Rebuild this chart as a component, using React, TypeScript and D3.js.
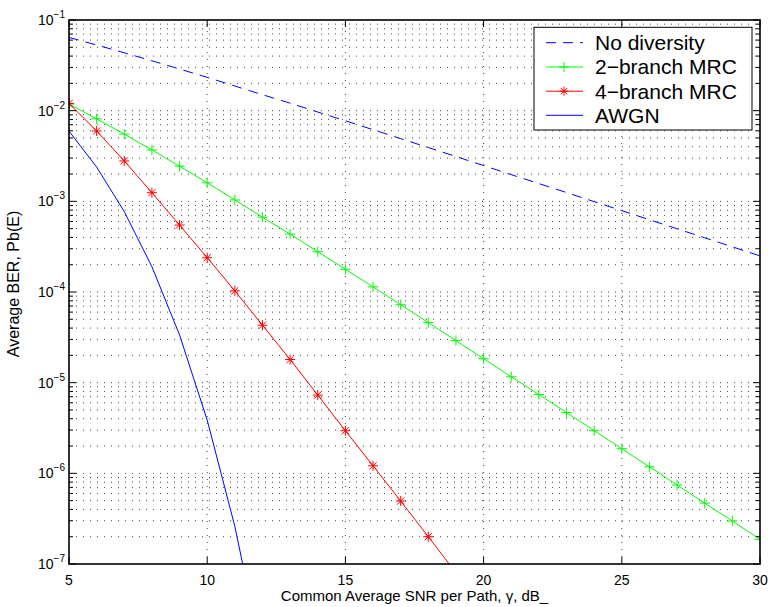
import React from "react";
import * as d3 from "d3";

const snrDb = [5, 6, 7, 8, 9, 10, 11, 12, 13, 14, 15, 16, 17, 18, 19, 20, 21, 22, 23, 24, 25, 26, 27, 28, 29, 30];
const noDiversity = [0.0642, 0.053, 0.0435, 0.0355, 0.0288, 0.0233, 0.0187, 0.015, 0.0121, 0.00966, 0.00773, 0.00617, 0.00492, 0.00392, 0.00312, 0.00248, 0.00197, 0.00157, 0.00125, 0.000993, 0.000789, 0.000627, 0.000498, 0.000396, 0.000315, 0.00025];
const mrc2 = [0.0118, 0.00813, 0.00551, 0.00369, 0.00244, 0.0016, 0.001036, 0.000668, 0.000436, 0.000278, 0.000178, 0.000114, 7.24e-5, 4.6e-5, 2.91e-5, 1.84e-5, 1.16e-5, 7.39e-6, 4.68e-6, 2.96e-6, 1.87e-6, 1.18e-6, 7.44e-7, 4.7e-7, 2.98e-7, 1.87e-7];
const snrDb4 = [5, 6, 7, 8, 9, 10, 11, 12, 13, 14, 15, 16, 17, 18, 19];
const mrc4 = [0.012, 5.97e-3, 2.79e-3, 1.245e-3, 5.48e-4, 2.39e-4, 1.03e-4, 4.3e-5, 1.8e-5, 7.3e-6, 2.95e-6, 1.21e-6, 4.95e-7, 2.0e-7, 8.0e-8];
const snrDbAwgn = [5, 6, 7, 8, 9, 10, 11, 12];
const awgn = [5.95e-3, 2.39e-3, 7.7e-4, 1.9e-4, 3.36e-5, 3.87e-6, 2.6e-7, 9e-9];

const xTicks = [5, 10, 15, 20, 25, 30];
const yDecades = [-7, -6, -5, -4, -3, -2, -1];
const legendLabels = ["No diversity", "2\u2212branch MRC", "4\u2212branch MRC", "AWGN"];
const xLabel = "Common Average SNR per Path, \u03b3, dB_";
const yLabel = "Average BER, Pb(E)";

const W = 768, H = 607;
const L = 69, R = 760, T = 20, B = 564;
const FONT = "'Liberation Sans', Arial, Helvetica, sans-serif";

function PlusMarker({ x, y, s, c }: { x: number; y: number; s: number; c: string }) {
  return (
    <g stroke={c} strokeWidth={1}>
      <line x1={x - s} y1={y} x2={x + s} y2={y} />
      <line x1={x} y1={y - s} x2={x} y2={y + s} />
    </g>
  );
}
function StarMarker({ x, y, s, c }: { x: number; y: number; s: number; c: string }) {
  const d = s * 0.72;
  return (
    <g stroke={c} strokeWidth={1}>
      <line x1={x - s} y1={y} x2={x + s} y2={y} />
      <line x1={x} y1={y - s} x2={x} y2={y + s} />
      <line x1={x - d} y1={y - d} x2={x + d} y2={y + d} />
      <line x1={x - d} y1={y + d} x2={x + d} y2={y - d} />
    </g>
  );
}

export default function App() {
  const x = d3.scaleLinear().domain([5, 30]).range([L, R]);
  const y = d3.scaleLog().domain([1e-7, 1e-1]).range([B, T]);
  const line = d3
    .line<[number, number]>()
    .x((d) => x(d[0]))
    .y((d) => y(d[1]));
  const zip = (a: number[], b: number[]) => a.map((v, i) => [v, b[i]] as [number, number]);

  const minorVals: number[] = [];
  yDecades.forEach((e) => {
    if (e === -1) return;
    for (let k = 2; k <= 9; k++) minorVals.push(k * Math.pow(10, e));
  });
  const majorVals = yDecades.map((e) => Math.pow(10, e));

  const gridDash = "1,6";
  const legendY = [42.7, 67, 91.2, 115.3];
  const legendColors = ["#0000ff", "#00ff00", "#ff0000", "#0000ff"];

  return (
    <svg width={W} height={H} style={{ position: "absolute", left: 0, top: 0, background: "#fff" }} fontFamily={FONT}>
      <defs>
        <clipPath id="plotClip">
          <rect x={L} y={T} width={R - L} height={B - T} />
        </clipPath>
      </defs>
      <rect x={0} y={0} width={W} height={H} fill="#fff" />
      {/* grid */}
      <g stroke="#000" strokeWidth={0.9} strokeDasharray={gridDash} opacity={0.8}>
        {[...minorVals, ...majorVals.slice(1, -1)].map((v, i) => (
          <line key={"h" + i} x1={L} x2={R} y1={y(v)} y2={y(v)} />
        ))}
        {xTicks.slice(1, -1).map((v, i) => (
          <line key={"v" + i} x1={x(v)} x2={x(v)} y1={B} y2={T} />
        ))}
      </g>
      {/* series */}
      <g clipPath="url(#plotClip)" fill="none" strokeWidth={1}>
        <path d={line(zip(snrDb, noDiversity)) || ""} stroke="#0000ff" strokeDasharray="10,7" />
        <path d={line(zip(snrDb, mrc2)) || ""} stroke="#00ff00" />
        <path d={line(zip(snrDb4, mrc4)) || ""} stroke="#ff0000" />
        <path d={line(zip(snrDbAwgn, awgn)) || ""} stroke="#0000ff" />
        {snrDb.map((v, i) => (
          <PlusMarker key={"p" + i} x={x(v)} y={y(mrc2[i])} s={5.2} c="#00ff00" />
        ))}
        {snrDb4.map((v, i) => (
          <StarMarker key={"s" + i} x={x(v)} y={y(mrc4[i])} s={5} c="#ff0000" />
        ))}
      </g>
      {/* ticks */}
      <g stroke="#000" strokeWidth={1}>
        {majorVals.map((v, i) => (
          <g key={"ym" + i}>
            <line x1={L} x2={L + 7} y1={y(v)} y2={y(v)} />
            <line x1={R} x2={R - 7} y1={y(v)} y2={y(v)} />
          </g>
        ))}
        {minorVals.map((v, i) => (
          <g key={"yn" + i}>
            <line x1={L} x2={L + 4} y1={y(v)} y2={y(v)} />
            <line x1={R} x2={R - 4} y1={y(v)} y2={y(v)} />
          </g>
        ))}
        {xTicks.map((v, i) => (
          <g key={"xt" + i}>
            <line x1={x(v)} x2={x(v)} y1={B} y2={B - 7} />
            <line x1={x(v)} x2={x(v)} y1={T} y2={T + 7} />
          </g>
        ))}
      </g>
      {/* axes box */}
      <rect x={L} y={T} width={R - L} height={B - T} fill="none" stroke="#000" strokeWidth={1.6} />
      {/* tick labels */}
      <g fontSize={14} fill="#000">
        {xTicks.map((v, i) => (
          <text key={"xl" + i} x={x(v)} y={B + 20.5} textAnchor="middle">
            {v}
          </text>
        ))}
        {yDecades.map((e, i) => (
          <text key={"yl" + i} x={L - 4} y={y(Math.pow(10, e)) + 5} textAnchor="end">
            10
            <tspan dy={-7} fontSize={10}>
              {"\u2212" + Math.abs(e)}
            </tspan>
          </text>
        ))}
      </g>
      {/* axis labels */}
      <text x={(L + R) / 2} y={601} textAnchor="middle" fontSize={15}>
        {xLabel}
      </text>
      <text transform={`translate(19,284) rotate(-90)`} textAnchor="middle" fontSize={16}>
        {yLabel}
      </text>
      {/* legend */}
      <g>
        <rect x={534} y={27.3} width={218} height={102.7} fill="#fff" stroke="#000" strokeWidth={1} />
        {legendLabels.map((lab, i) => (
          <g key={"lg" + i}>
            <line
              x1={546}
              x2={583}
              y1={legendY[i]}
              y2={legendY[i]}
              stroke={legendColors[i]}
              strokeWidth={1}
              strokeDasharray={i === 0 ? "10,7" : undefined}
            />
            {i === 1 && <PlusMarker x={564} y={legendY[i]} s={5} c="#00ff00" />}
            {i === 2 && <StarMarker x={564} y={legendY[i]} s={4.5} c="#ff0000" />}
            <text x={595} y={legendY[i] + 7.3} fontSize={21}>
              {lab}
            </text>
          </g>
        ))}
      </g>
    </svg>
  );
}
